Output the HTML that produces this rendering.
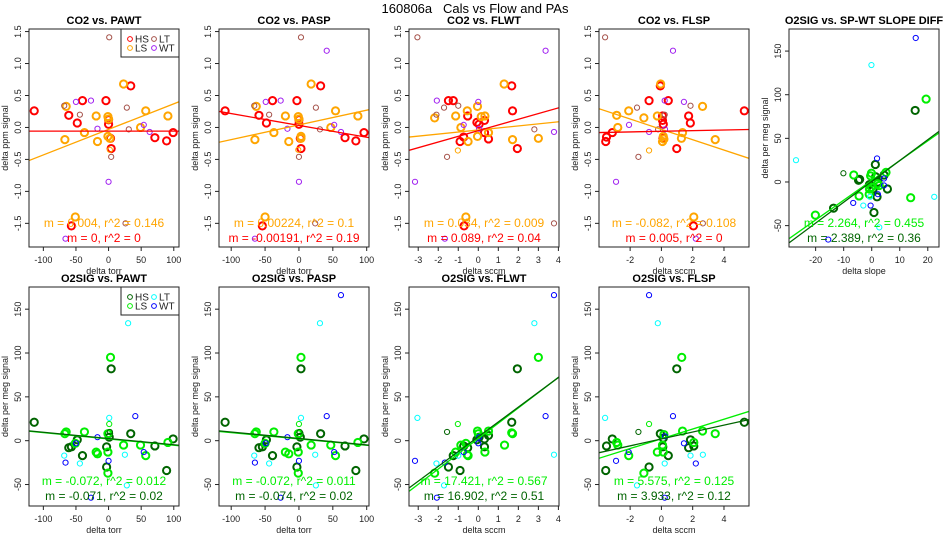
<!DOCTYPE html>
<html><head><meta charset="utf-8"><style>
body{margin:0;background:#fff;}
svg{display:block;font-family:"Liberation Sans",sans-serif;}
</style></head><body>
<svg id="fig" width="950" height="550" viewBox="0 0 950 550" xmlns="http://www.w3.org/2000/svg">
<rect width="950" height="550" fill="#fff"/>
<text x="475" y="13" font-size="13" text-anchor="middle" style="white-space:pre" xml:space="preserve">160806a   Cals vs Flow and PAs</text>
</svg>
<script>
// ---- data ----
const p1HS=[[-114,.26],[-61,.19],[-57,-1.54],[-48,.07],[-40,.42],[-4,.42],[0,.05],[0,.12],[3,-.17],[4,-.33],[34,.65],[71,-.16],[89,-.21],[99,-.08]];
const p1LS=[[23,.68],[-65,.33],[-19,.18],[-1,.17],[0,.13],[57,.26],[91,.18],[49,0],[-37,-.08],[-67,-.19],[-17,-.22],[-1,-.14],[2,-.17],[-51,-1.40]];
const p1LSt=[[2,-.35]];
const p1LT=[[1,1.41],[-68,.34],[-44,.2],[28,.31],[31,-.03],[4,-.46],[26,-1.5]];
const p1WT=[[-50,.40],[-27,.42],[-17,-.02],[54,.04],[63,-.07],[0,-.85],[-66,-1.74]];
const p2HS=[[-109,.26],[-59,.19],[-54,-1.54],[-48,.07],[-39,.42],[-3,.42],[0,.05],[0,.12],[2,-.17],[3,-.33],[32,.65],[68,-.16],[84,-.21],[96,-.08]];
const p2LS=[[18,.68],[-63,.33],[-20,.18],[-1,.17],[0,.13],[54,.26],[87,.18],[47,0],[-37,-.08],[-65,-.19],[-15,-.22],[3,-.14],[3,-.17],[-50,-1.40]];
const p2LSt=[[-1,-.35]];
const p2LT=[[3,1.41],[-66,.34],[-44,.2],[25,.31],[31,-.03],[0,-.46],[24,-1.5]];
const p2WT=[[-49,.40],[-27,.42],[-17,-.02],[52,.04],[62,-.07],[0,-.85],[41,1.2],[-65,-1.74]];
const p3HS=[[-1.49,.42],[-1.25,.42],[-.53,.18],[-.91,-.22],[-.73,-.15],[-.07,.08],[.04,.05],[.31,.11],[.31,-.08],[.51,-.18],[1.67,.65],[1.71,.26],[1.95,-.33],[-.71,-1.54]];
const p3LS=[[1.29,.68],[-2.18,.15],[-1.13,.18],[-.55,.26],[-.04,.33],[.15,.17],[.33,.18],[-.87,0],[.51,-.08],[-.51,-.22],[-.04,-.14],[1.71,-.19],[3.0,-.17],[-.62,-1.40]];
const p3LSt=[[-1.02,-.36]];
const p3LT=[[-3.04,1.41],[-2.09,.2],[-1.71,.31],[-1.0,.34],[-1.56,-.46],[2.8,-.03],[3.78,-1.5]];
const p3WT=[[-2.07,.42],[0,.40],[-.73,.04],[.04,-.02],[3.36,1.2],[3.78,-.07],[-3.16,-.85],[-1.67,-1.74]];
const p4HS=[[-3.56,-.22],[-3.51,-.15],[-3.14,-.08],[-.79,.42],[.44,.42],[-.07,.65],[.07,.18],[.07,.11],[.12,.05],[.1,-.17],[.98,-.33],[1.74,.18],[1.85,.07],[5.3,.26],[2.05,-1.54]];
const p4LS=[[-.05,.68],[-2.86,.19],[-2.09,.26],[-1.12,.15],[-.26,.18],[-2.79,0],[.12,-.14],[.07,-.22],[.16,-.18],[1.35,-.08],[1.28,-.17],[2.63,.33],[3.44,-.19],[2.07,-1.40]];
const p4LSt=[[-.79,-.36]];
const p4LT=[[-3.6,1.41],[-1.56,.31],[-.21,-.03],[.21,.2],[1.86,.34],[-1.47,-.46],[2.65,-1.5]];
const p4WT=[[.74,1.2],[.21,.42],[1.44,.40],[-2.07,.04],[-.79,-.07],[.23,-.03],[-2.9,-.85],[2.2,-1.74]];
const p5HS=[[15.5,82],[-13.6,-30],[-4.7,2],[-4.3,3],[.8,-35],[1.3,20],[4.4,8],[1.9,-17],[5.6,-8],[.5,-8],[1.4,6],[2.2,0],[-.8,-3]];
const p5LS=[[19.4,95],[-20.1,-38],[-6.4,8],[-4.5,-16],[-.9,-14],[-.1,10],[-.4,7],[-.1,-6],[2.7,-4],[5.1,11],[13.9,-18],[-.8,-8],[2.1,-2]];
const p5HSt=[[-10.1,10]];
const p5LT=[[-27,25],[-.1,134],[22.3,-17],[-3,-27],[-.6,-17],[2.7,-52]];
const p5WT=[[15.7,165],[1.9,27],[4.4,4],[4.4,-4],[-6.6,-24],[-.4,-27],[2.2,-14],[-15.5,-66]];
const p6HS=[[-114,21],[-61,-8],[-57,-7],[-48,1],[-40,-17],[-3,-7],[-3,-30],[1,4],[0,8],[4,82],[34,8],[71,-6],[89,-34],[99,2]];
const p6LS=[[-65,10],[-67,8],[-37,10],[-19,-13],[-17,-15],[-1,8],[-1,-13],[-1,-37],[3,95],[23,-5],[49,-5],[57,-17],[91,-2],[-51,-3]];
const p6LSt=[[1,19]];
const p6HSt=[[2,10]];
const p6LT=[[30,134],[1,26],[-68,-17],[-44,-26],[25,-16],[28,-51]];
const p6WT=[[41,28],[-17,4],[-50,-3],[-66,-25],[0,-23],[54,-13],[-27,-65]];
const p7HS=[[-109,21],[-59,-8],[-54,-7],[-48,1],[-39,-17],[-3,-7],[-3,-30],[2,4],[0,8],[3,82],[32,8],[68,-6],[84,-34],[96,2]];
const p7LS=[[-63,10],[-65,8],[-37,10],[-20,-13],[-15,-15],[-1,8],[-1,-13],[-1,-37],[3,95],[18,-5],[47,-5],[54,-17],[87,-2],[-50,-3]];
const p7LSt=[[0,19]];
const p7HSt=[[1,10]];
const p7LT=[[31,134],[3,26],[-66,-17],[-44,-26],[24,-16],[25,-51]];
const p7WT=[[41,28],[-17,4],[-49,-3],[-65,-25],[0,-23],[52,-13],[62,166],[-27,-65]];
const p8HS=[[1.95,82],[1.67,21],[-1.49,-30],[-1.25,-17],[-.91,-34],[-.73,-6],[-.53,-8],[-.07,1],[.31,-7],[.31,2],[.51,6],[.04,4]];
const p8LS=[[3.0,95],[1.31,-5],[-2.18,-37],[-1.13,-13],[-.87,-5],[-.62,-3],[-.55,-16],[-.04,11],[0,8],[.33,-13],[.51,11],[1.71,8],[-.51,-17],[1.67,9]];
const p8LSt=[[-1.02,19]];
const p8HSt=[[-1.56,10]];
const p8LT=[[-3.04,26],[2.8,134],[-2.09,-26],[-1.0,-17],[3.78,-16],[-1.71,-51]];
const p8WT=[[3.78,166],[3.36,28],[-3.16,-23],[-1.67,-25],[-.73,-13],[0,-3],[.04,4],[-2.07,-65]];
const p9HS=[[5.3,21],[.98,82],[1.86,1],[2.07,-6],[1.74,-8],[-3.56,-34],[-3.51,-6],[-3.14,2],[-.79,-30],[.44,-17],[-.07,8],[.12,3],[.09,-7]];
const p9LS=[[1.3,95],[-1.12,-37],[-2.09,-17],[-2.86,-2],[-2.79,-5],[.12,-13],[.07,-5],[-.26,-13],[.16,7],[1.35,11],[2.63,11],[3.44,8],[2.07,-2]];
const p9LSt=[[-.79,19]];
const p9HSt=[[-1.47,10]];
const p9LT=[[-3.6,26],[-.23,134],[.21,-26],[1.86,-17],[2.65,-16],[-1.56,-51]];
const p9WT=[[-.79,166],[.74,28],[-2.9,-23],[-2.09,-13],[1.44,-3],[.23,5],[2.2,-26],[.21,-65]];
// fits: [slope, intercept] for LS line then HS line
const fitSlopesLS=[0.004,0.0023,0.032,-0.081,2.264,-0.072,-0.072,17.421,5.575];
const fitIntLS=[-0.03,0.04,-0.04,-0.03,1.8,2.0,2.0,2.5,2.2];
const fitSlopesHS=[0,-0.00185,0.089,0.005,2.389,-0.071,-0.074,16.902,3.933];
const fitIntHS=[-0.057,0.032,-0.05,-0.06,0.7,2.5,2.5,4.5,2.0];
const annotLS=["m = 0.004, r^2 = 0.146","m = 0.00224, r^2 = 0.1","m = 0.034, r^2 = 0.009","m = -0.082, r^2 = 0.108","m = 2.264, r^2 = 0.455","m = -0.072, r^2 = 0.012","m = -0.072, r^2 = 0.011","m = 17.421, r^2 = 0.567","m = 5.575, r^2 = 0.125"];
const annotHS=["m = 0, r^2 = 0","m = -0.00191, r^2 = 0.19","m = 0.089, r^2 = 0.04","m = 0.005, r^2 = 0","m = 2.389, r^2 = 0.36","m = -0.071, r^2 = 0.02","m = -0.074, r^2 = 0.02","m = 16.902, r^2 = 0.51","m = 3.933, r^2 = 0.12"];
const titles=["CO2 vs. PAWT","CO2 vs. PASP","CO2 vs. FLWT","CO2 vs. FLSP","O2SIG vs. SP-WT SLOPE DIFF","O2SIG vs. PAWT","O2SIG vs. PASP","O2SIG vs. FLWT","O2SIG vs. FLSP"];
const xTicksTorr=[-100,-50,0,50,100];
const xTicksFlwt=[-3,-2,-1,0,1,2,3,4];
const xTicksFlsp=[-2,0,2,4];
const xTicksSlope=[-20,-10,0,10,20];
const yTicksCO2=["-1.5","-1.0","-0.5","0.0","0.5","1.0","1.5"];
const yTicksO2=[-50,0,50,100,150];

const NS="http://www.w3.org/2000/svg";
const svg=document.getElementById('fig');
function mk(tag,attrs,parent){const e=document.createElementNS(NS,tag);for(const k in attrs)e.setAttribute(k,attrs[k]);(parent||svg).appendChild(e);return e;}

const co2Cols={HS:"#ff0000",LS:"#ffa500",LT:"#a5524a",WT:"#a020f0"};
const o2Cols={HS:"#006400",LS:"#00ee00",LT:"#00ffff",WT:"#0000ff"};
const panels=[
 {col:0,row:0,xr:[-122,108],co2:true,xt:xTicksTorr,xl:"delta torr",g:{HS:p1HS,LS:p1LS,LSt:p1LSt,LT:p1LT,WT:p1WT},leg:true},
 {col:1,row:0,xr:[-118,103.4],co2:true,xt:xTicksTorr,xl:"delta torr",g:{HS:p2HS,LS:p2LS,LSt:p2LSt,LT:p2LT,WT:p2WT}},
 {col:2,row:0,xr:[-3.46,4.03],co2:true,xt:xTicksFlwt,xl:"delta sccm",g:{HS:p3HS,LS:p3LS,LSt:p3LSt,LT:p3LT,WT:p3WT}},
 {col:3,row:0,xr:[-3.99,5.6],co2:true,xt:xTicksFlsp,xl:"delta sccm",g:{HS:p4HS,LS:p4LS,LSt:p4LSt,LT:p4LT,WT:p4WT}},
 {col:4,row:0,xr:[-29.5,24],co2:false,xt:xTicksSlope,xl:"delta slope",g:{HS:p5HS,LS:p5LS,HSt:p5HSt,LT:p5LT,WT:p5WT}},
 {col:0,row:1,xr:[-122,108],co2:false,xt:xTicksTorr,xl:"delta torr",g:{HS:p6HS,LS:p6LS,LSt:p6LSt,HSt:p6HSt,LT:p6LT,WT:p6WT},leg:true},
 {col:1,row:1,xr:[-118,103.4],co2:false,xt:xTicksTorr,xl:"delta torr",g:{HS:p7HS,LS:p7LS,LSt:p7LSt,HSt:p7HSt,LT:p7LT,WT:p7WT}},
 {col:2,row:1,xr:[-3.46,4.03],co2:false,xt:xTicksFlwt,xl:"delta sccm",g:{HS:p8HS,LS:p8LS,LSt:p8LSt,HSt:p8HSt,LT:p8LT,WT:p8WT}},
 {col:3,row:1,xr:[-3.99,5.6],co2:false,xt:xTicksFlsp,xl:"delta sccm",g:{HS:p9HS,LS:p9LS,LSt:p9LSt,HSt:p9HSt,LT:p9LT,WT:p9WT}}
];

panels.forEach((p,i)=>{
  const L=29+190*p.col, R=L+150, T=p.row?287:29, B=p.row?506:247;
  const yr=p.co2?[-1.87,1.54]:[-74.5,175.3];
  const sx=v=>L+(v-p.xr[0])/(p.xr[1]-p.xr[0])*(R-L);
  const sy=v=>B-(v-yr[0])/(yr[1]-yr[0])*(B-T);
  const cols=p.co2?co2Cols:o2Cols;
  const g=mk('g',{});
  
  
  const cid='clip'+i;
  const cp=mk('clipPath',{id:cid},g); mk('rect',{x:L,y:T,width:R-L,height:B-T},cp);
  const t=mk('text',{x:(L+R)/2,y:T-5,'font-size':11,'font-weight':'bold','text-anchor':'middle'},g);
  t.textContent=titles[i];
  
  
  const pg=mk('g',{'clip-path':'url(#'+cid+')'},g);
  for(const key in p.g){
    const base=key.replace('t','');
    const thick=(key==='HS'||key==='LS');
    p.g[key].forEach(d=>{
      const c=mk('circle',{cx:sx(d[0]),cy:sy(d[1]),r:thick?3.6:2.6,fill:'none',stroke:cols[base],'stroke-width':thick?2:1},pg);
      
      
    });
  }
  [[fitSlopesLS[i],fitIntLS[i],cols.LS],[fitSlopesHS[i],fitIntHS[i],cols.HS]].forEach((f,j)=>{
    const x0=p.xr[0],x1=p.xr[1];
    const ln=mk('line',{x1:sx(x0),y1:sy(f[1]+f[0]*x0),x2:sx(x1),y2:sy(f[1]+f[0]*x1),stroke:f[2],'stroke-width':1.3},pg);
    
    
  });
  const ay=p.row?481:223;
  const a1=mk('text',{x:(L+R)/2,y:ay+4,'font-size':12,'text-anchor':'middle',fill:cols.LS},g);
  a1.textContent=annotLS[i];
  
  
  const a2=mk('text',{x:(L+R)/2,y:ay+19,'font-size':12,'text-anchor':'middle',fill:cols.HS},g);
  a2.textContent=annotHS[i];
  
  
  const bx=mk('rect',{x:L,y:T,width:R-L,height:B-T,fill:'none',stroke:'#222','stroke-width':1},g);
  
  
  p.xt.forEach(v=>{
    const x=sx(v);
    mk('line',{x1:x,y1:B,x2:x,y2:B+4,stroke:'#222'},g);
    const tl=mk('text',{x:x,y:B+16,'font-size':9,'text-anchor':'middle',fill:'#222'},g);
    tl.textContent=String(v);
    
    
  });
  mk('line',{x1:sx(p.xt[0]),y1:B,x2:sx(p.xt[p.xt.length-1]),y2:B,stroke:'#222'},g);
  const xl=mk('text',{x:(L+R)/2,y:B+27,'font-size':9,'text-anchor':'middle',fill:'#222'},g);
  xl.textContent=p.xl;
  
  
  const yt=p.co2?yTicksCO2:yTicksO2;
  yt.forEach(v=>{
    const y=sy(parseFloat(v));
    mk('line',{x1:L-4,y1:y,x2:L,y2:y,stroke:'#222'},g);
    const tl=mk('text',{x:L-11,y:y,'font-size':9,'text-anchor':'middle',fill:'#222',transform:'rotate(-90 '+(L-11)+' '+y+')','dominant-baseline':'central'},g);
    tl.textContent=String(v);
    
    
  });
  const yl=mk('text',{x:L-24,y:(T+B)/2,'font-size':9,'text-anchor':'middle',fill:'#222','dominant-baseline':'central',transform:'rotate(-90 '+(L-24)+' '+((T+B)/2)+')'},g);
  yl.textContent=p.co2?"delta ppm signal":"delta per meg signal";
  
  
  if(p.leg){
    const lg=mk('g',{},g);
    
    
    mk('rect',{x:121,y:T,width:58,height:28,fill:'#fff',stroke:'#222'},lg);
    [['HS',130,T+10],['LT',154,T+10],['LS',130,T+19],['WT',154,T+19]].forEach(e=>{
      mk('circle',{cx:e[1],cy:e[2],r:2.4,fill:'none',stroke:cols[e[0]],'stroke-width':1},lg);
      const tx=mk('text',{x:e[1]+5,y:e[2]+3.5,'font-size':10,fill:'#222'},lg);
      tx.textContent=e[0];
      
      
    });
  }
});
</script>
</body></html>
